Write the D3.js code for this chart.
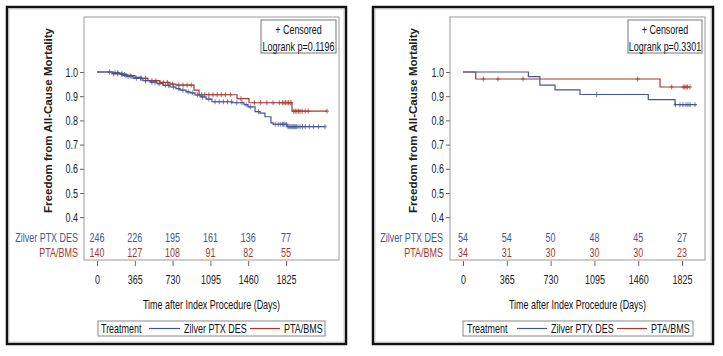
<!DOCTYPE html>
<html><head><meta charset="utf-8">
<script src="https://cdn.jsdelivr.net/npm/d3@7"></script>
<style>
body{margin:0;background:#fff;}
svg{display:block;font-family:"Liberation Sans",Arial,sans-serif;}
</style></head>
<body><svg id="c" width="723" height="356"></svg>
<script>
// ---------- data ----------
const xTicks = [0, 365, 730, 1095, 1460, 1825];
const yTicks = [0.4, 0.5, 0.6, 0.7, 0.8, 0.9, 1.0];
const groups = ["Zilver PTX DES", "PTA/BMS"];

// Left panel: step times (days) and survival after each step
const leftDesTimes = [0,155,222,290,348,444,512,579,637,705,763,801,860,898,946,995,1053,1110,1304,1420,1458,1526,1574,1622,1680,1700,1835];
const leftDesSurv  = [1.0,0.997,0.99,0.982,0.974,0.964,0.958,0.952,0.945,0.938,0.931,0.925,0.918,0.914,0.905,0.897,0.888,0.877,0.873,0.865,0.856,0.836,0.83,0.815,0.79,0.784,0.774];
const leftDesEnd = 2202;
const leftDesCens = [120,175,200,240,265,300,330,380,420,470,530,560,600,660,690,740,790,830,880,920,970,1020,1080,1140,1180,1220,1260,1300,1350,1400,1440,1480,1560,1720,1750,1770,1790,1800,1815,1830,1845,1855,1865,1875,1885,1895,1905,1915,1925,1940,1960,1985,2010,2050,2090,2140,2202];
const leftPtaTimes = [0,145,251,367,415,492,608,705,763,937,985,1352,1468,1883];
const leftPtaSurv  = [1.0,0.993,0.985,0.978,0.974,0.964,0.957,0.950,0.946,0.925,0.906,0.89,0.873,0.838];
const leftPtaEnd = 2221;
const leftPtaCens = [160,200,240,280,320,430,470,530,570,640,680,730,790,830,870,910,1010,1040,1080,1120,1160,1200,1240,1290,1390,1520,1580,1640,1700,1760,1790,1805,1820,1835,1850,1865,1875,1900,1915,1930,1945,1960,1980,2010,2040,2221];
const leftRiskDes = [246, 226, 195, 161, 136, 77];
const leftRiskPta = [140, 127, 108, 91, 82, 55];
const leftP = "Logrank p=0.1196";

// Right panel
const rightDesTimes = [0,545,641,767,975,1544,1767];
const rightDesSurv  = [1.0,0.981,0.946,0.926,0.907,0.886,0.865];
const rightDesEnd = 1945;
const rightDesCens = [1114,1770,1808,1833,1858,1875,1892,1933];
const rightPtaTimes = [0,106,1642];
const rightPtaSurv  = [1.0,0.971,0.938];
const rightPtaEnd = 1892;
const rightPtaCens = [169,292,500,1456,1739,1835,1848,1860,1870,1892];
const rightRiskDes = [54, 54, 50, 48, 45, 27];
const rightRiskPta = [34, 31, 30, 30, 30, 23];
const rightP = "Logrank p=0.3301";

// ---------- drawing ----------
const BLUE = "#445694", RED = "#A23A2E";
const FS = 13, SQUEEZE = 0.69;
const svg = d3.select("#c");

function survAt(times, surv, t){
  let s = surv[0];
  for(let i=0;i<times.length;i++){ if(times[i] <= t) s = surv[i]; }
  return s;
}

function panel(cfg, d){
  const g = svg.append("g");
  // outer frame
  g.append("rect").attr("x",cfg.ox).attr("y",cfg.oy).attr("width",cfg.ow).attr("height",cfg.oh)
    .attr("fill","none").attr("stroke","#111").attr("stroke-width",2.5);
  g.append("rect").attr("x",cfg.ox+2).attr("y",cfg.oy+2).attr("width",cfg.ow-4).attr("height",cfg.oh-4)
    .attr("fill","none").attr("stroke","#bbb").attr("stroke-width",0.8);
  // plot box
  g.append("rect").attr("x",cfg.bx0).attr("y",cfg.by0).attr("width",cfg.bx1-cfg.bx0).attr("height",cfg.by1-cfg.by0)
    .attr("fill","none").attr("stroke","#999").attr("stroke-width",1);

  const x = d3.scaleLinear().domain([0,1825]).range([cfg.x0, cfg.x1]);
  const y = d3.scaleLinear().domain([0.4,1.0]).range([217.2,72]);

  // y axis
  const ya = g.append("g").attr("transform",`translate(${cfg.bx0},0)`)
    .call(d3.axisLeft(y).tickValues(yTicks).tickFormat(d3.format(".1f")).tickSize(4).tickPadding(2));
  ya.select(".domain").remove();
  ya.selectAll("line").attr("stroke","#666");
  ya.selectAll("text").attr("font-size",FS).attr("fill","#222").attr("font-family",null).classed("sq",true);

  // x axis
  const xa = g.append("g").attr("transform",`translate(0,${cfg.by1+1})`)
    .call(d3.axisBottom(x).tickValues(xTicks).tickFormat(d3.format("d")).tickSize(5).tickPadding(9));
  xa.select(".domain").remove();
  xa.selectAll("line").attr("stroke","#666");
  xa.selectAll("text").attr("font-size",FS).attr("fill","#222").attr("font-family",null).classed("sq",true);

  // axis titles
  g.append("text").attr("class","sq").attr("x",(cfg.bx0+cfg.bx1)/2).attr("y",309).attr("text-anchor","middle")
    .attr("font-size",FS).attr("fill","#111").text("Time after Index Procedure (Days)");
  g.append("text").attr("transform",`translate(${cfg.ytx},120.5) rotate(-90)`).attr("text-anchor","middle")
    .attr("dy","0.35em").attr("font-size",11.5).attr("font-weight","bold").attr("fill","#222")
    .attr("textLength",185).attr("lengthAdjust","spacingAndGlyphs")
    .text("Freedom from All-Cause Mortality");

  // curves
  const line = d3.line().x(p=>x(p[0])).y(p=>y(p[1])).curve(d3.curveStepAfter);
  [[d.pta, RED],[d.des, BLUE]].forEach(([s,col])=>{
    const pts = s.times.map((t,i)=>[t,s.surv[i]]);
    pts.push([s.end, s.surv[s.surv.length-1]]);
    g.append("path").attr("d",line(pts)).attr("fill","none").attr("stroke",col).attr("stroke-width",1.2);
    const cg = g.append("g").attr("stroke",col).attr("stroke-width",0.9).attr("opacity",0.85);
    s.cens.forEach(t=>{
      const cx = x(t), cy = y(survAt(s.times,s.surv,t));
      cg.append("path").attr("d",`M${cx-2},${cy}H${cx+2}M${cx},${cy-2.5}V${cy+2.5}`);
    });
  });

  // censor/logrank box
  g.append("rect").attr("x",cfg.cb0).attr("y",20).attr("width",cfg.cb1-cfg.cb0).attr("height",33)
    .attr("fill","#fff").attr("stroke","#777").attr("stroke-width",1);
  const cm = (cfg.cb0+cfg.cb1)/2;
  g.append("text").attr("class","sq").attr("x",cm).attr("y",34).attr("text-anchor","middle").attr("font-size",FS).attr("fill","#111").text("+ Censored");
  g.append("text").attr("class","sq").attr("x",cm).attr("y",50.5).attr("text-anchor","middle").attr("font-size",FS).attr("fill","#111").text(d.p);

  // risk table
  const rows = [[groups[0], d.riskDes, BLUE, 241.5],[groups[1], d.riskPta, RED, 256.5]];
  rows.forEach(([lab, vals, col, yy])=>{
    g.append("text").attr("class","sq").attr("x",cfg.rl).attr("y",yy).attr("text-anchor","end").attr("font-size",FS).attr("fill",col).text(lab);
    g.selectAll(null).data(vals).enter().append("text").attr("class","sq")
      .attr("x",(v,i)=>x(xTicks[i])).attr("y",yy).attr("text-anchor","middle")
      .attr("font-size",FS).attr("fill",col).text(v=>v);
  });

  // legend
  const L = cfg.leg;
  g.append("rect").attr("x",L.x0).attr("y",321).attr("width",L.x1-L.x0).attr("height",15)
    .attr("fill","#fff").attr("stroke","#888").attr("stroke-width",1);
  g.append("text").attr("class","sq").attr("x",L.t).attr("y",333).attr("font-size",FS).attr("fill","#111").text("Treatment");
  g.append("line").attr("x1",L.b0).attr("x2",L.b1).attr("y1",328.5).attr("y2",328.5).attr("stroke",BLUE).attr("stroke-width",1.2);
  g.append("text").attr("class","sq").attr("x",L.b1+4).attr("y",333).attr("font-size",FS).attr("fill","#111").text(groups[0]);
  g.append("line").attr("x1",L.r0).attr("x2",L.r1).attr("y1",328.5).attr("y2",328.5).attr("stroke",RED).attr("stroke-width",1.2);
  g.append("text").attr("class","sq").attr("x",L.r1+4).attr("y",333).attr("font-size",FS).attr("fill","#111").text(groups[1]);
}

panel({ox:7,oy:7,ow:339,oh:337,bx0:84,by0:17,bx1:339,by1:260,x0:97,x1:286,ytx:48,cb0:261,cb1:336,rl:78,
       leg:{x0:98,x1:325,t:101,b0:149,b1:180,r0:250,r1:280}},
  {des:{times:leftDesTimes,surv:leftDesSurv,end:leftDesEnd,cens:leftDesCens},
   pta:{times:leftPtaTimes,surv:leftPtaSurv,end:leftPtaEnd,cens:leftPtaCens},
   riskDes:leftRiskDes, riskPta:leftRiskPta, p:leftP});

panel({ox:373,oy:7,ow:340,oh:337,bx0:450,by0:17,bx1:705,by1:260,x0:463,x1:682,ytx:413,cb0:628,cb1:702,rl:443,
       leg:{x0:463,x1:693,t:467,b0:517,b1:547,r0:617,r1:647}},
  {des:{times:rightDesTimes,surv:rightDesSurv,end:rightDesEnd,cens:rightDesCens},
   pta:{times:rightPtaTimes,surv:rightPtaSurv,end:rightPtaEnd,cens:rightPtaCens},
   riskDes:rightRiskDes, riskPta:rightRiskPta, p:rightP});

// condense horizontal text (narrow typeface of the reference) with a horizontal scale
svg.selectAll("text.sq").each(function(){
  const t = d3.select(this);
  const tx = +(t.attr("x") || 0), ty = +(t.attr("y") || 0);
  t.attr("x",0).attr("y",0)
   .attr("transform",`translate(${tx},${ty}) scale(${SQUEEZE},1)`);
});
</script></body></html>
